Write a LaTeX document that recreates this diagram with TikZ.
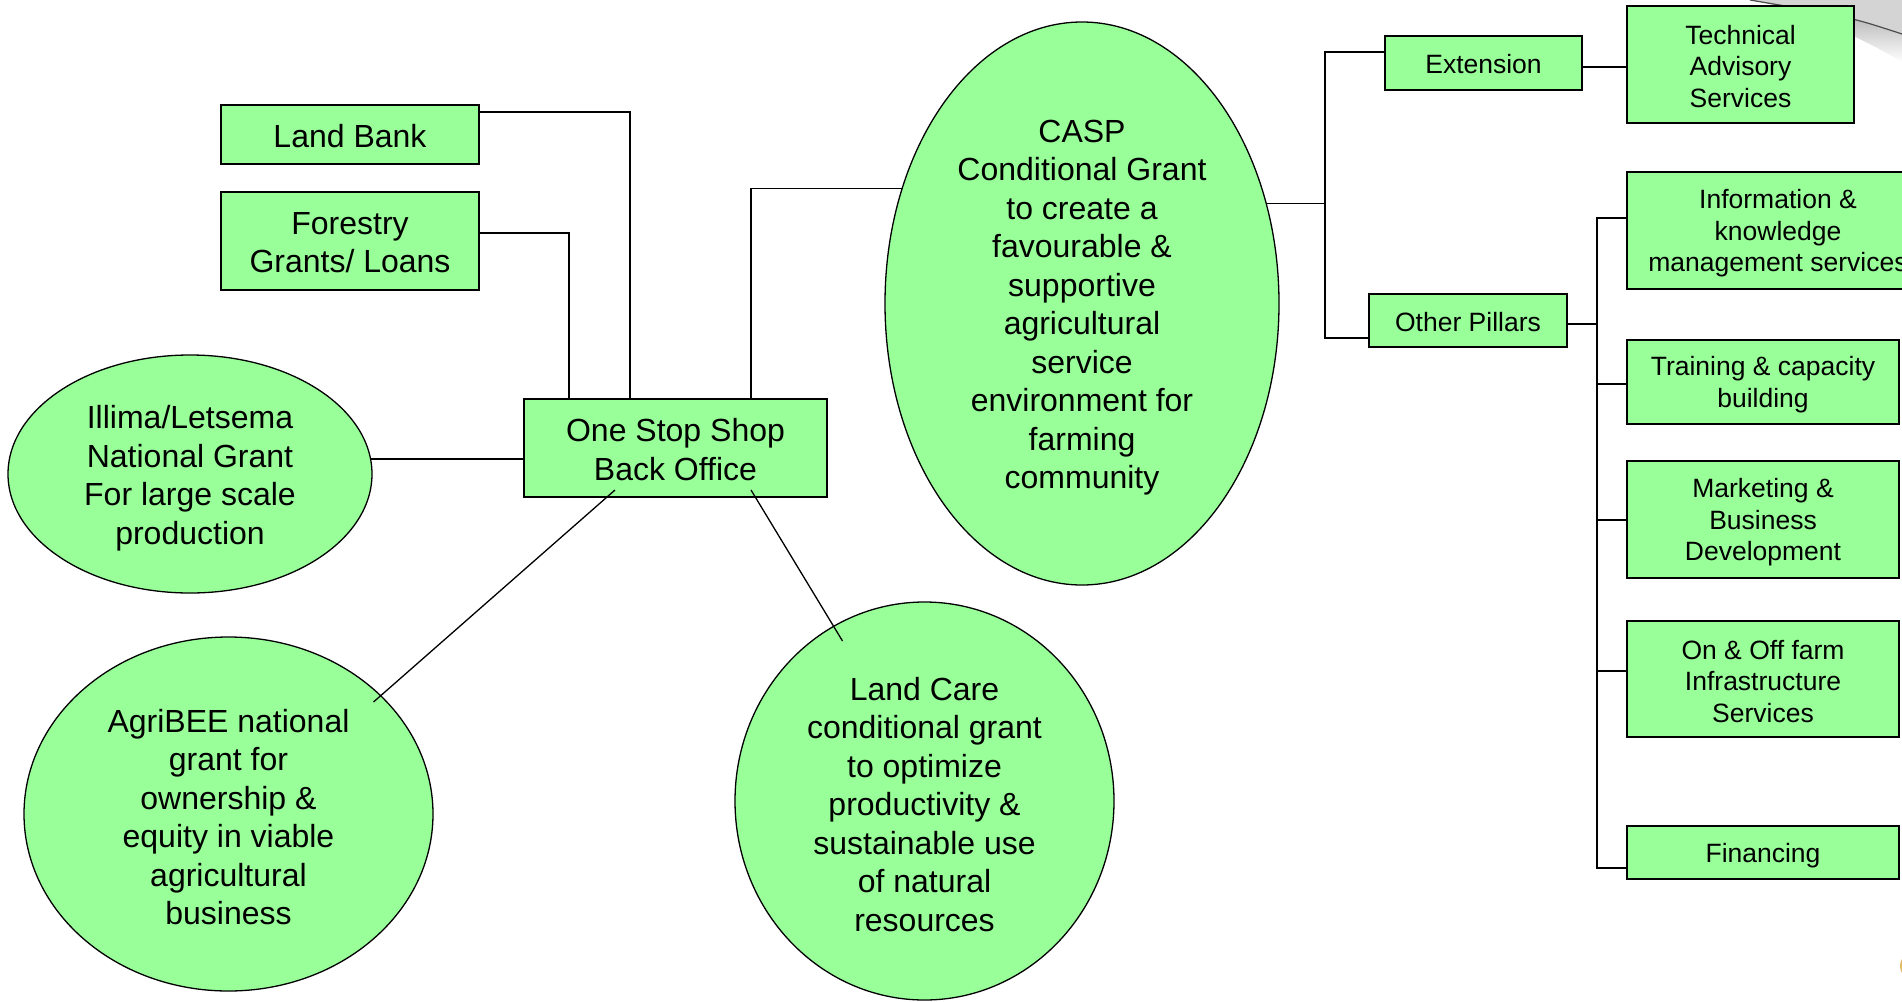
\documentclass[tikz,border=0pt]{standalone}
\usepackage{fontspec}
\setmainfont{Liberation Sans}
\usetikzlibrary{shapes.geometric,backgrounds}
\definecolor{boxgreen}{HTML}{99FF99}
\definecolor{curlgrey}{HTML}{D4D4D4}
\definecolor{goldtab}{HTML}{E2B966}

\begin{document}
\begin{tikzpicture}[x=1pt,y=-1pt,
  box/.style={draw=black, fill=boxgreen, line width=1.6pt, inner sep=0pt, outer sep=0pt},
  oval/.style={ellipse, draw=black, fill=boxgreen, line width=1.3pt, inner sep=0pt, outer sep=0pt},
  big/.style={align=center, inner sep=0pt, font=\fontsize{32}{38.5}\selectfont},
  small/.style={align=center, inner sep=0pt, font=\fontsize{26.5}{31.5}\selectfont},
  link/.style={draw=black, line width=1.5pt}]

\path[use as bounding box] (0,0) rectangle (1902,1001);
\clip (0,0) rectangle (1902,1001);

% curled page corner, behind everything
\fill[curlgrey] (1750,0) -- (1902,0) -- (1902,34) .. controls (1850,17) .. (1750,0) -- cycle;
\shade[top color=gray!75, bottom color=white] (1750,0) .. controls (1850,17) .. (1902,34)
  -- (1902,62) .. controls (1860,38) .. (1780,6) -- cycle;
\draw[black!70, line width=1.2pt] (1750,0) .. controls (1850,17) .. (1902,34);

% small tab at the lower right edge
\fill[goldtab] (1917,966) ellipse [x radius=17, y radius=15];

% left-hand sources
\node[box,minimum width=258pt,minimum height=59pt,
  label={[big,yshift=-1.5pt]center:Land Bank}] (landbank) at (350,134.5) {};
\node[box,minimum width=258pt,minimum height=98pt,
  label={[big,yshift=-1.5pt]center:{Forestry\\Grants/ Loans}}] (forestry) at (350,241) {};
\node[oval,minimum width=364pt,minimum height=238pt,
  label={[big,yshift=-4pt]center:{Illima/Letsema\\National Grant\\For large scale\\production}}] (illima) at (190,474) {};
\node[oval,minimum width=409pt,minimum height=354pt,
  label={[big,yshift=-3pt]center:{AgriBEE national\\grant for\\ownership \&\\equity in viable\\agricultural\\business}}] (agri) at (228.5,814) {};

% hub
\node[box,minimum width=303pt,minimum height=98pt,
  label={[big,yshift=-1.5pt]center:{One Stop Shop\\Back Office}}] (oss) at (675.5,448) {};

% land care and CASP
\node[oval,minimum width=379pt,minimum height=398pt,
  label={[big,yshift=-3.5pt]center:{Land Care\\conditional grant\\to optimize\\productivity \&\\sustainable use\\of natural\\resources}}] (landcare) at (924.5,801) {};
\node[oval,minimum width=394pt,minimum height=563pt,
  label={[big,yshift=-4pt]center:{CASP\\Conditional Grant\\to create a\\favourable \&\\supportive\\agricultural\\service\\environment for\\farming\\community}}] (casp) at (1082,303.5) {};

% CASP pillars
\node[box,minimum width=197pt,minimum height=54pt,
  label={[small,yshift=-1.5pt]center:Extension}] (extension) at (1483.5,63) {};
\node[box,minimum width=227pt,minimum height=117pt,
  label={[small,yshift=-2pt]center:{Technical\\Advisory\\Services}}] (tech) at (1740.5,64.5) {};
\node[box,minimum width=198pt,minimum height=53pt,
  label={[small,yshift=-1.5pt]center:Other Pillars}] (otherp) at (1468,320.5) {};
\node[box,minimum width=302pt,minimum height=117pt,
  label={[small,yshift=-3pt]center:{Information \&\\knowledge\\management services}}] (info) at (1778,230.5) {};
\node[box,minimum width=272pt,minimum height=84pt,
  label={[small,yshift=-2.5pt]center:{Training \& capacity\\building}}] (training) at (1763,382) {};
\node[box,minimum width=272pt,minimum height=117pt,
  label={[small,yshift=-3pt]center:{Marketing \&\\Business\\Development}}] (mkt) at (1763,519.5) {};
\node[box,minimum width=272pt,minimum height=116pt,
  label={[small,yshift=-2.5pt]center:{On \& Off farm\\Infrastructure\\Services}}] (onoff) at (1763,679) {};
\node[box,minimum width=272pt,minimum height=53pt,
  label={[small,yshift=-3pt]center:Financing}] (fin) at (1763,852.5) {};

% elbow connectors, kept under the shapes
\begin{scope}[on background layer]
  \draw[link] ([yshift=22.5pt]landbank.east) -| ([xshift=106pt]oss.north west);
  \draw[link] ([yshift=8pt]forestry.east) -| ([xshift=45pt]oss.north west);
  \draw[link] ([xshift=227pt]oss.north west) |- ([yshift=115pt]casp.center);
  \coordinate (illin) at ([yshift=-11pt]oss.west);
  \draw[link] (illin) -- (illin -| illima.center);

  \coordinate (jA) at ([xshift=-44pt,yshift=-17.5pt]otherp.west);
  \coordinate (caspout) at ([yshift=100pt]casp.center);
  \draw[link] (caspout) -- (caspout -| jA);
  \draw[link] ([yshift=11pt]extension.west) -| (jA) -- (jA -| otherp.west);
  \coordinate (extout) at ([yshift=-4pt]extension.east);
  \draw[link] (extout) -- (extout -| tech.west);

  \draw[link] ([yshift=-3.5pt]otherp.east) -- ++(30,0);
  \coordinate (fb) at ([yshift=-15.5pt]fin.west);
  \draw[link] ([yshift=12.5pt]info.west) -- ++(-30,0) |- (fb);
  \draw[link] ([yshift=-2pt]training.west) -- ++(-30,0);
  \draw[link] ([yshift=-0.5pt]mkt.west) -- ++(-30,0);
  \draw[link] ([yshift=8pt]onoff.west) -- ++(-30,0);
\end{scope}

% diagonal links from the hub
\draw[link,line width=1.3pt] ([xshift=91pt,yshift=7pt]oss.south west) -- ([xshift=145pt,yshift=112pt]agri.center);
\draw[link,line width=1.3pt] ([xshift=227pt,yshift=7pt]oss.south west) -- ([xshift=-82pt,yshift=160pt]landcare.center);

\end{tikzpicture}
\end{document}
